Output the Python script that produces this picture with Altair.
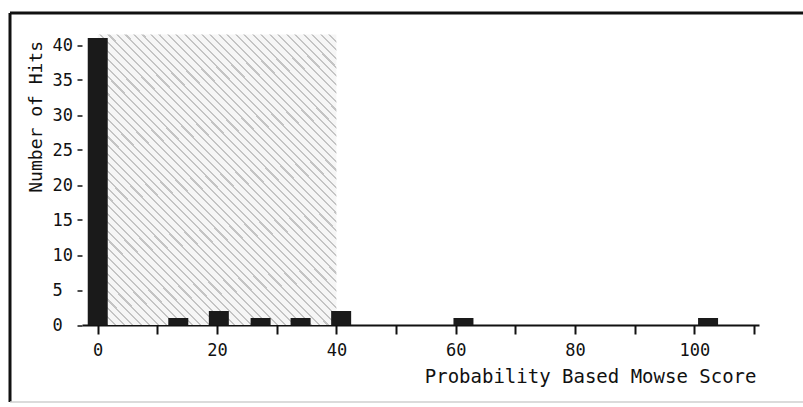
import altair as alt
import pandas as pd

# ---- data ----
scores = [0, 13.5, 20.3, 27.3, 34.0, 40.8, 61.3, 102.3]
hits = [41, 1, 2, 1, 1, 2, 1, 1]
threshold_start = [0]
threshold_end = [40]
threshold_top = [41.5]
x_ticks = [0, 10, 20, 30, 40, 50, 60, 70, 80, 90, 100, 110]
y_ticks = [0, 5, 10, 15, 20, 25, 30, 35, 40]

bars_df = pd.DataFrame({"score": scores, "hits": hits})
shade_df = pd.DataFrame({"x0": threshold_start, "x1": threshold_end,
                         "y0": [0], "y1": threshold_top})
one = pd.DataFrame({"k": [0]})

MONO = "DejaVu Sans Mono"
W, H = 677, 290.5
LEFT, TOP = 82, 34.5

# hatch-like stripes via a hard-stop linear gradient (style only)
periods = 62
stops = []
for i in range(periods):
    a = i / periods
    b = (i + 0.25) / periods
    c = (i + 1) / periods
    stops += [
        alt.GradientStop(offset=a, color="#c4c4c4"),
        alt.GradientStop(offset=b, color="#c4c4c4"),
        alt.GradientStop(offset=b, color="#f6f6f6"),
        alt.GradientStop(offset=c, color="#f6f6f6"),
    ]
hatch = alt.Gradient(gradient="linear", stops=stops, x1=0, y1=1, x2=0.9, y2=-0.084)

xscale = alt.Scale(domain=[-1.8, 110], nice=False, zero=False)
yscale = alt.Scale(domain=[0, 41.5], nice=False, zero=True)

xaxis = alt.Axis(
    values=x_ticks,
    labelExpr="datum.value % 20 == 0 ? datum.label : ''",
    labelOverlap=False,
    tickSize=9, tickWidth=2, tickColor="#111",
    domainWidth=2, domainColor="#111",
    labelFont=MONO, labelFontSize=17, labelColor="#111", labelPadding=8,
    grid=False,
    title="Probability Based Mowse Score",
    titleFont=MONO, titleFontSize=19, titleFontWeight="normal", titleColor="#111",
    titleAnchor="end", titleAlign="right", titleX=674, titleY=57,
    titleBaseline="alphabetic",
)
yaxis = alt.Axis(
    values=y_ticks,
    tickCount=9,
    labelOverlap=False,
    tickSize=5, tickWidth=1.5, tickColor="#111",
    domain=False, grid=False,
    labelFont=MONO, labelFontSize=17, labelColor="#111",
    labelAlign="left", labelPadding=25,
    title="Number of Hits",
    titleFont=MONO, titleFontSize=18, titleFontWeight="normal", titleColor="#111",
    titleAngle=-90, titleAlign="right", titleBaseline="middle",
    titleX=-46, titleY=6,
)

shade = alt.Chart(shade_df).mark_rect(fill=hatch).encode(
    x=alt.X("x0:Q", scale=xscale, axis=xaxis),
    x2="x1:Q",
    y=alt.Y("y0:Q", scale=yscale, axis=yaxis),
    y2="y1:Q",
)

bars = alt.Chart(bars_df).mark_bar(size=20, color="#1a1a1a").encode(
    x=alt.X("score:Q", scale=xscale, axis=xaxis),
    y=alt.Y("hits:Q", scale=yscale, axis=yaxis),
)

# figure frame (decorative)
frame_left = alt.Chart(one).mark_rule(color="#111", strokeWidth=3).encode(
    x=alt.value(10 - LEFT), y=alt.value(13 - TOP), y2=alt.value(402 - TOP))
frame_top = alt.Chart(one).mark_rule(color="#111", strokeWidth=3).encode(
    x=alt.value(10 - LEFT), x2=alt.value(803 - LEFT), y=alt.value(13 - TOP))
frame_bottom = alt.Chart(one).mark_rule(color="#cfcfcf", strokeWidth=1.5).encode(
    x=alt.value(10 - LEFT), x2=alt.value(803 - LEFT), y=alt.value(402 - TOP))

chart = alt.layer(shade, bars, frame_left, frame_top, frame_bottom).properties(
    width=W, height=H,
    autosize=alt.AutoSizeParams(type="none"),
    padding={"left": LEFT, "top": TOP, "right": 803 - LEFT - W, "bottom": 407 - TOP - H},
    background="white",
).configure_view(stroke=None)

chart.save("out.html", embed_options={"renderer": "svg", "actions": False})
